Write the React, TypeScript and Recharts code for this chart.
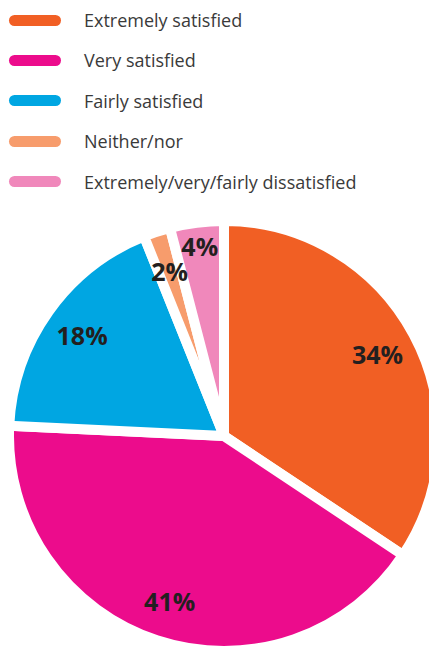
import React from "react";
import { PieChart, Pie, Cell } from "recharts";

const categories = [
  "Extremely satisfied",
  "Very satisfied",
  "Fairly satisfied",
  "Neither/nor",
  "Extremely/very/fairly dissatisfied",
];
const values = [34, 41, 18, 2, 4];
const colors = ["#F15F24", "#EC0C8C", "#00A6E2", "#F79C6C", "#F088BB"];

const data = categories.map((name, i) => ({ name, value: values[i] }));

const RAD = Math.PI / 180;

const renderLabel = (props: any) => {
  const { cx, cy, midAngle, outerRadius, value } = props;
  const factor = value >= 3 && value < 5 ? 0.89 : 0.81;
  const r = outerRadius * factor;
  const x = cx + r * Math.cos(-midAngle * RAD);
  const y = cy + r * Math.sin(-midAngle * RAD);
  return (
    <text
      x={x}
      y={y}
      textAnchor="middle"
      dominantBaseline="central"
      fill="#231F20"
      fontSize={25}
      fontWeight={700}
      fontFamily="'Open Sans', sans-serif"
    >
      {`${value}%`}
    </text>
  );
};

const LegendBlock = () => (
  <div style={{ fontFamily: "'Open Sans', sans-serif" }}>
    {categories.map((c, i) => (
      <div
        key={c}
        style={{
          position: "absolute",
          left: 0,
          top: 20 + i * 40.4 - 15,
          height: 30,
          display: "flex",
          alignItems: "center",
          whiteSpace: "nowrap",
        }}
      >
        <div
          style={{
            marginLeft: 9,
            width: 52,
            height: 11,
            borderRadius: 6,
            background: colors[i],
          }}
        />
        <span
          style={{
            marginLeft: 23,
            fontSize: 18,
            color: "#3A3A3A",
          }}
        >
          {c}
        </span>
      </div>
    ))}
  </div>
);

export default function App() {
  return (
    <div style={{ position: "absolute", left: 0, top: 0, width: 429, height: 646, overflow: "hidden" }}>
      <PieChart width={429} height={646} margin={{ top: 0, right: 0, bottom: 0, left: 0 }}>
        <Pie
          data={data}
          dataKey="value"
          nameKey="name"
          cx={224}
          cy={436}
          outerRadius={215}
          startAngle={90}
          endAngle={-270}
          stroke="#ffffff"
          strokeWidth={10}
          label={renderLabel}
          labelLine={false}
          isAnimationActive={false}
        >
          {data.map((d, i) => (
            <Cell key={d.name} fill={colors[i]} />
          ))}
        </Pie>
      </PieChart>
      <div style={{ position: "absolute", left: 0, top: 0 }}>
        <LegendBlock />
      </div>
    </div>
  );
}
